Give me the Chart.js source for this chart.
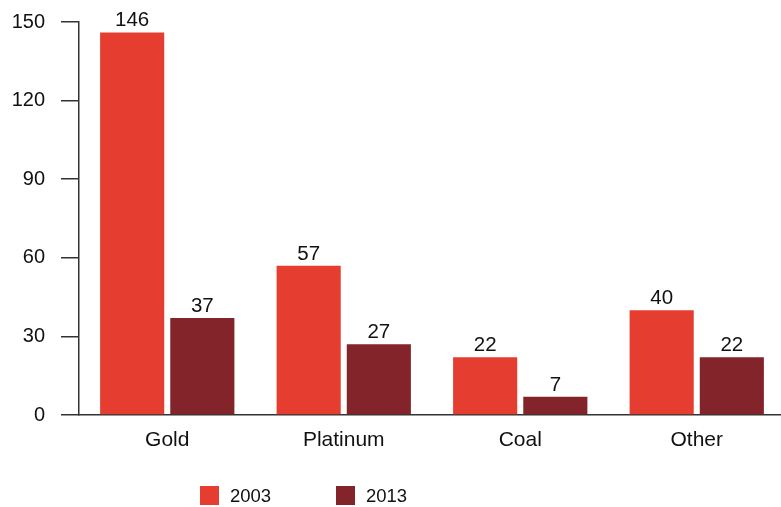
<!DOCTYPE html>
<html>
<head>
<meta charset="utf-8">
<script src="https://cdn.jsdelivr.net/npm/chart.js@4"></script>
<style>
  html, body { margin: 0; padding: 0; background: #fff; overflow: hidden; }
  #wrap { position: relative; width: 781px; height: 507px; overflow: hidden; }
  #legend { position: absolute; left: 200px; top: 486px; font: 18.5px "Liberation Sans", Arial, sans-serif; color: #111; }
  .item { position: absolute; top: 0; white-space: nowrap; }
  .box { display: inline-block; width: 19px; height: 19px; vertical-align: top; }
  .txt { position: absolute; left: 30px; top: 0; line-height: 19px; }
</style>
</head>
<body>
<div id="wrap">
  <canvas id="chart" width="785" height="507"></canvas>
  <div id="legend"></div>
</div>
<script>
"use strict";
// categories and series
const categories = ['Gold', 'Platinum', 'Coal', 'Other'];
const seriesLabels = ['2003', '2013'];
const values2003 = [146, 57, 22, 40];
const values2013 = [37, 27, 7, 22];
const yTicks = [0, 30, 60, 90, 120, 150];
const colors = ['#E53D30', '#82242A'];

const FONT = '"Liberation Sans", Arial, sans-serif';

// writes the value above each bar
const barValues = {
    id: 'barValues',
    afterDatasetsDraw(chart) {
        const ctx = chart.ctx;
        ctx.save();
        ctx.font = '20.5px ' + FONT;
        ctx.fillStyle = '#111';
        ctx.textAlign = 'center';
        ctx.textBaseline = 'alphabetic';
        chart.data.datasets.forEach((ds, i) => {
            chart.getDatasetMeta(i).data.forEach((bar, j) => {
                ctx.fillText(String(ds.data[j]), bar.x, bar.y - 6);
            });
        });
        ctx.restore();
    }
};

const config = {
    type: 'bar',
    data: {
        labels: categories,
        datasets: [
            { label: seriesLabels[0], data: values2003, backgroundColor: colors[0] },
            { label: seriesLabels[1], data: values2013, backgroundColor: colors[1] }
        ]
    },
    options: {
        responsive: false,
        animation: false,
        devicePixelRatio: 1,
        categoryPercentage: 0.795,
        barPercentage: 0.914,
        layout: { padding: { top: 22, right: 0, left: 0, bottom: 0 } },
        plugins: {
            legend: { display: false },
            tooltip: { enabled: false }
        },
        scales: {
            x: {
                grid: { display: false, drawTicks: false },
                border: { color: '#333', width: 1.5 },
                ticks: { color: '#111', font: { family: FONT, size: 21 }, padding: 13 },
                afterFit: s => { s.height = 92; s.paddingLeft = 0; s.paddingRight = 0; }
            },
            y: {
                min: 0,
                max: 150,
                afterBuildTicks: s => { s.ticks = yTicks.map(v => ({ value: v })); },
                grid: { drawOnChartArea: false, drawTicks: true, tickLength: 18, color: '#333', lineWidth: 1.5 },
                border: { color: '#333', width: 1.5 },
                ticks: { color: '#111', font: { family: FONT, size: 20 }, padding: 16 },
                afterFit: s => { s.width = 79; s.paddingTop = 0; s.paddingBottom = 0; }
            }
        }
    },
    plugins: [barValues]
};

const chart = new Chart(document.getElementById('chart').getContext('2d'), config);

// legend below the chart, built from the datasets
const legend = document.getElementById('legend');
const legendX = [0, 136];
chart.data.datasets.forEach((ds, i) => {
    const item = document.createElement('div');
    item.className = 'item';
    item.style.left = legendX[i] + 'px';
    item.innerHTML = `<span class="box" style="background:${ds.backgroundColor}"></span><span class="txt">${ds.label}</span>`;
    legend.appendChild(item);
});
</script>
</body>
</html>
